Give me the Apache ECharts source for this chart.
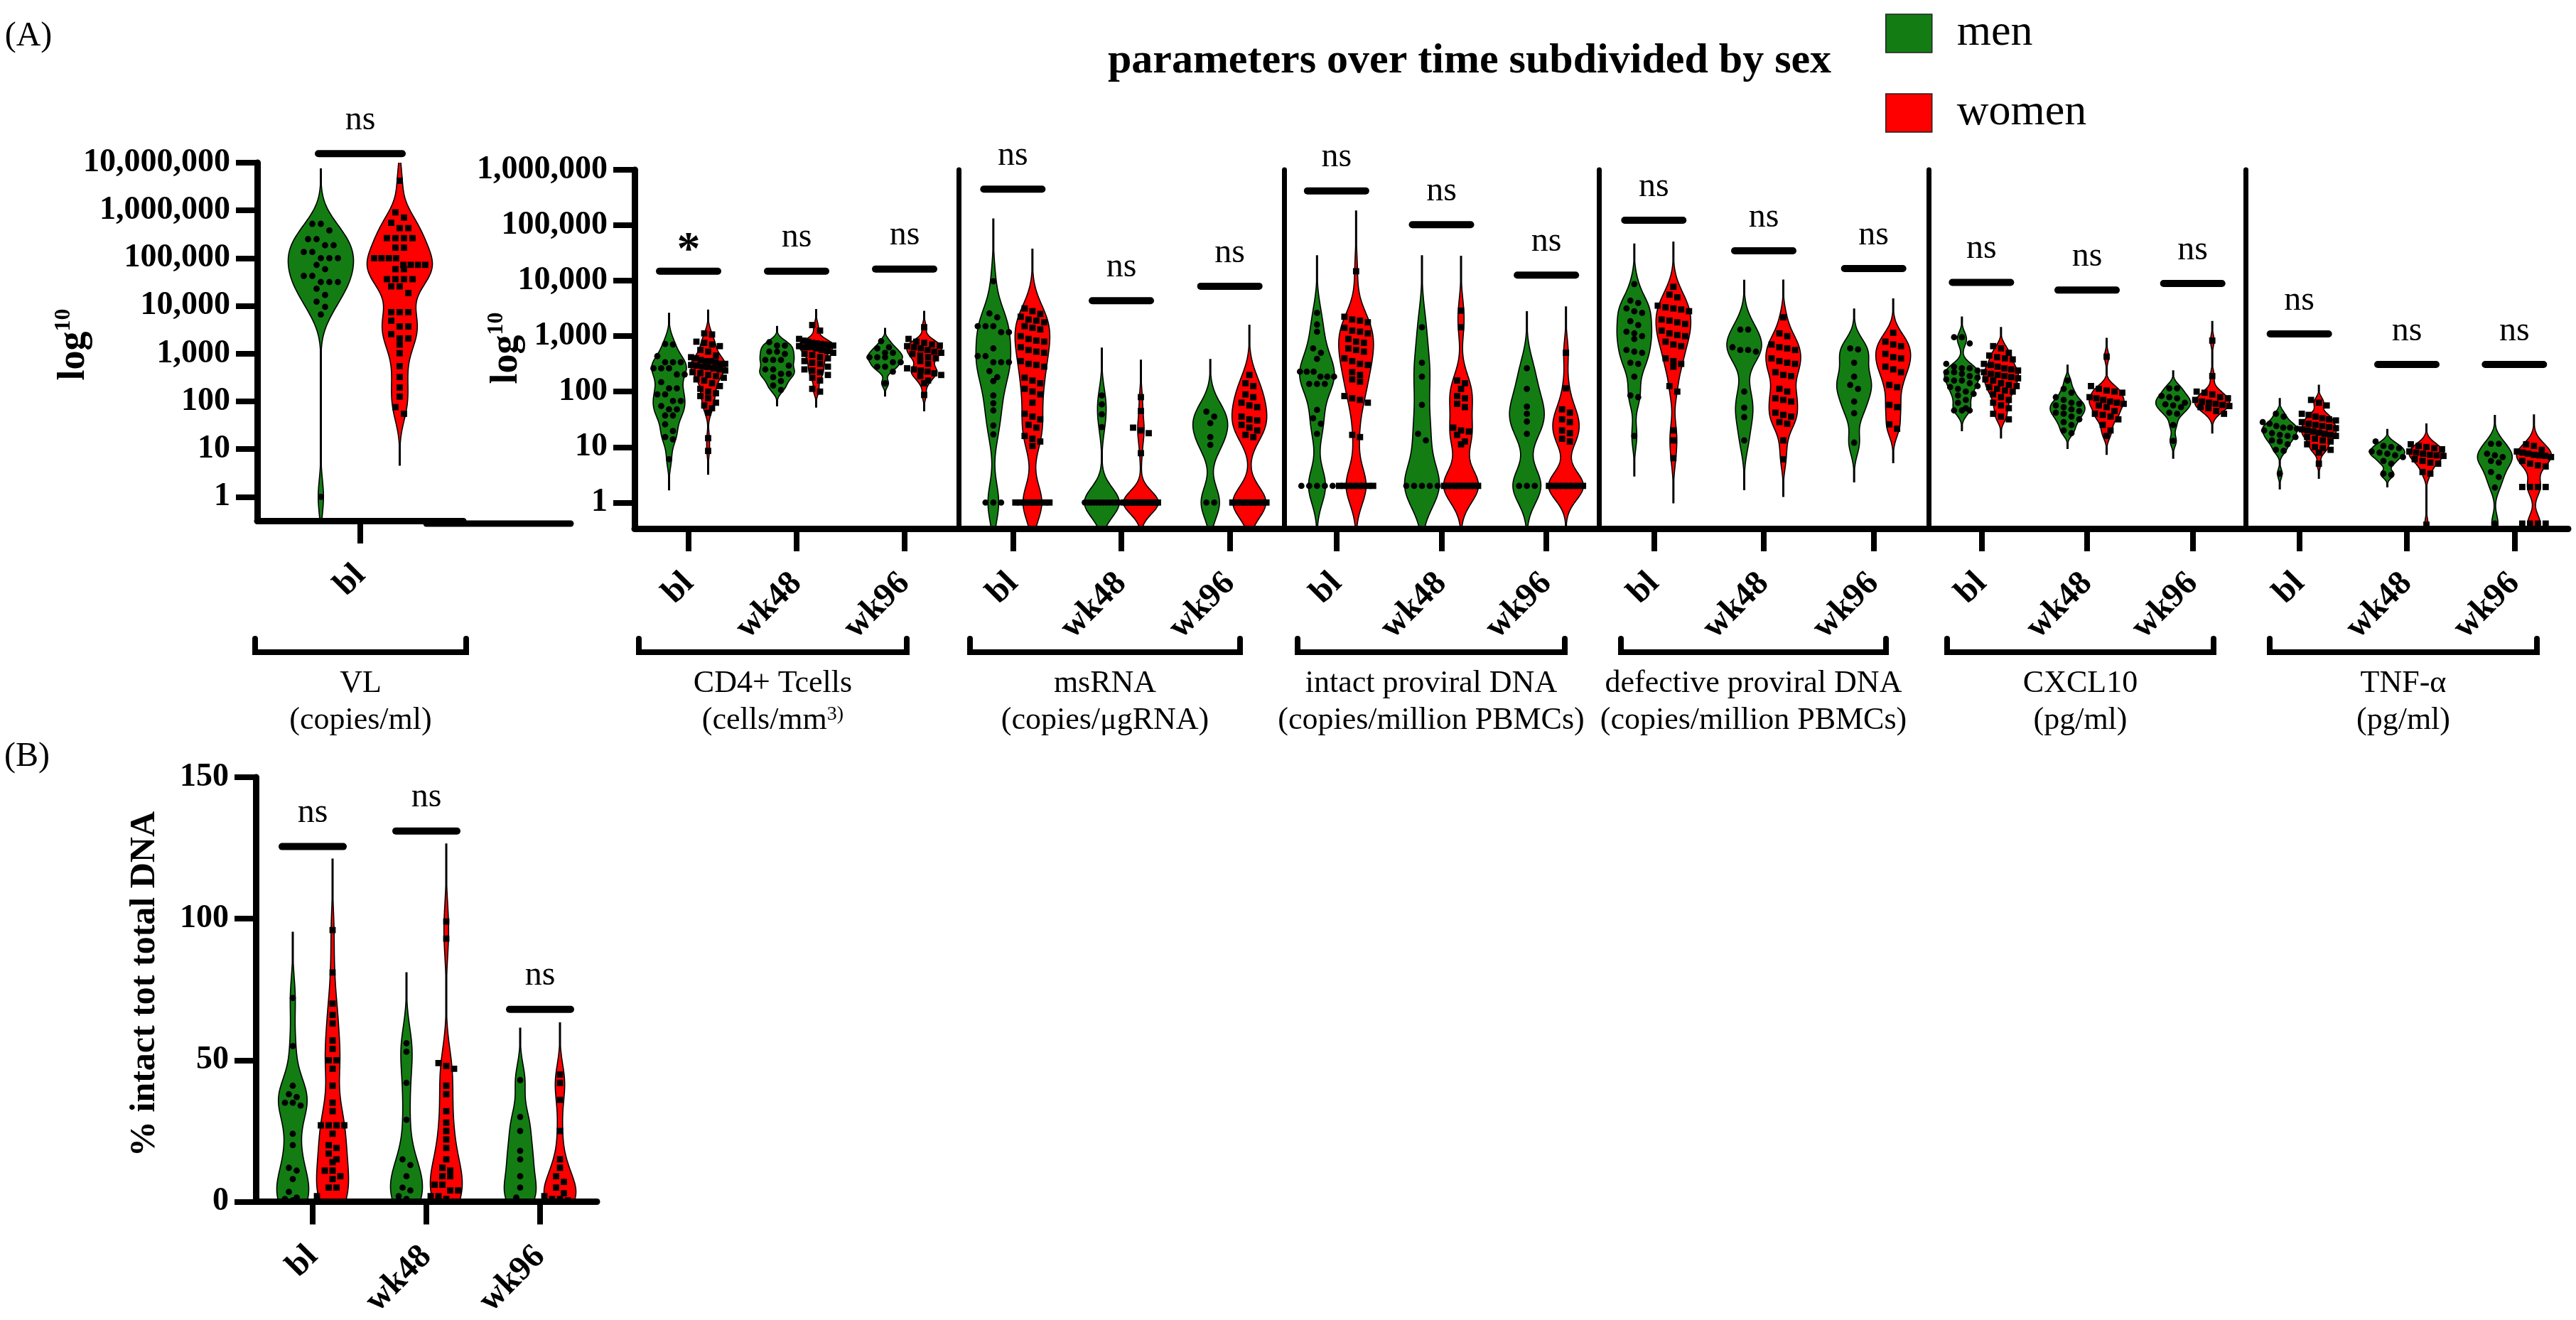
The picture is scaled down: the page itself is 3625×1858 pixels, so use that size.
<!DOCTYPE html>
<html>
<head>
<meta charset="utf-8">
<script src="https://cdn.jsdelivr.net/npm/echarts@6/dist/echarts.min.js"></script>
<style>html,body{margin:0;padding:0;background:#fff}#c{width:3625px;height:1858px}</style>
</head>
<body>
<div id="c"></div>
<script>
// ---------- categories and tick labels ----------
const timepoints = ['bl', 'wk48', 'wk96'];
const vlCategories = ['bl'];
const logTicksVL = [0, 1, 2, 3, 4, 5, 6, 7];
const logTicks = [0, 1, 2, 3, 4, 5, 6];
const groupNames = ['VL', 'CD4+ Tcells', 'msRNA', 'intact proviral DNA', 'defective proviral DNA', 'CXCL10', 'TNF-\u03b1'];
const groupUnits = ['(copies/ml)', '(cells/mm{s|3)}', '(copies/\u03bcgRNA)', '(copies/million PBMCs)', '(copies/million PBMCs)', '(pg/ml)', '(pg/ml)'];
const sexes = ['men', 'women'];

// ---------- values (log10 units for panel A, % for panel B) ----------
const vl_men = [5.72,5.72,5.58,5.40,5.40,5.27,5.27,5.13,5.13,5.00,5.00,5.00,4.86,4.77,4.63,4.63,4.50,4.50,4.50,4.36,4.23,4.09,3.98,3.82,0.00];
const vl_women = [6.62,5.96,5.85,5.74,5.63,5.63,5.42,5.42,5.42,5.42,5.22,5.22,5.00,5.00,5.00,5.00,4.86,4.86,4.86,4.86,4.77,4.77,4.56,4.56,4.56,4.56,4.41,4.41,4.27,3.87,3.87,3.87,3.69,3.57,3.57,3.41,3.32,3.32,3.19,3.01,2.74,2.51,2.29,2.10,1.88,1.74];

const cd4_men_bl = [2.86,2.85,2.64,2.53,2.53,2.53,2.42,2.42,2.42,2.31,2.31,2.17,2.06,2.06,1.95,1.95,1.83,1.83,1.74,1.68,1.68,1.57,1.57,1.41,1.29,1.18,1.14,0.78];
const cd4_women_bl = [3.05,3.03,2.90,2.88,2.85,2.82,2.75,2.72,2.65,2.62,2.60,2.57,2.55,2.55,2.53,2.50,2.50,2.48,2.47,2.45,2.44,2.42,2.40,2.38,2.35,2.33,2.30,2.28,2.25,2.22,2.20,2.15,2.10,2.05,2.00,1.97,1.92,1.88,1.80,1.75,1.70,1.62,1.16,0.93];
const cd4_men_wk48 = [2.89,2.83,2.83,2.72,2.72,2.68,2.57,2.57,2.57,2.47,2.40,2.40,2.32,2.32,2.26,2.19,2.11,2.03];
const cd4_women_wk48 = [3.20,3.10,2.95,2.92,2.90,2.88,2.87,2.86,2.85,2.84,2.83,2.82,2.80,2.80,2.78,2.75,2.73,2.70,2.68,2.66,2.62,2.60,2.55,2.52,2.50,2.45,2.40,2.38,2.35,2.30,2.25,2.20,2.05,2.00];
const cd4_men_wk96 = [2.91,2.80,2.78,2.70,2.70,2.62,2.62,2.62,2.53,2.53,2.45,2.45,2.36,2.15];
const cd4_women_wk96 = [3.16,2.95,2.90,2.88,2.85,2.83,2.82,2.80,2.78,2.75,2.72,2.70,2.68,2.65,2.62,2.60,2.55,2.50,2.42,2.40,2.38,2.36,2.33,2.30,2.28,2.20,2.15,1.94];

const ms_men_bl = [3.99,3.41,3.34,3.18,3.18,3.18,3.07,3.07,2.78,2.64,2.64,2.53,2.53,2.53,2.37,2.26,2.19,1.93,1.79,1.66,1.39,1.23,0,0,0];
const ms_women_bl = [3.50,3.45,3.40,3.35,3.30,3.28,3.25,3.18,3.15,3.12,3.00,2.95,2.92,2.90,2.80,2.75,2.72,2.70,2.55,2.50,2.48,2.45,2.25,2.20,2.15,2.05,2.00,1.95,1.80,1.60,1.55,1.50,1.40,1.35,1.20,1.15,1.10,1.02,0,0,0,0,0,0,0,0];
const ms_men_wk48 = [1.93,1.77,1.59,1.36,0,0,0,0,0,0,0,0,0,0,0,0];
const ms_women_wk48 = [1.90,1.65,1.35,1.30,1.25,0.89,0,0,0,0,0,0,0,0,0,0,0,0,0,0,0,0,0,0];
const ms_men_wk96 = [1.64,1.55,1.43,1.18,1.04,0,0];
const ms_women_wk96 = [2.30,2.15,2.10,1.95,1.90,1.80,1.75,1.72,1.55,1.50,1.48,1.40,1.35,1.30,1.22,1.18,0,0,0,0,0,0,0,0,0];

const int_men_bl = [3.42,3.21,3.08,2.78,2.70,2.59,2.36,2.36,2.36,2.27,2.27,2.27,2.14,2.14,2.14,1.67,1.52,1.42,1.24,0.3,0.3,0.3,0.3,0.3];
const int_women_bl = [4.17,3.35,3.30,3.28,3.25,3.15,3.10,3.08,3.05,2.95,2.90,2.88,2.78,2.75,2.72,2.60,2.55,2.50,2.48,2.35,2.30,2.22,2.18,1.92,1.88,1.85,1.80,1.22,1.18,0.3,0.3,0.3,0.3,0.3,0.3,0.3,0.3];
const int_men_wk48 = [3.16,2.52,2.27,1.76,1.24,1.12,0.3,0.3,0.3,0.3,0.3];
const int_women_wk48 = [3.46,3.16,2.20,2.15,2.05,1.92,1.88,1.78,1.72,1.35,1.30,1.28,1.22,1.10,1.05,0.3,0.3,0.3,0.3,0.3,0.3,0.3,0.3,0.3,0.3];
const int_men_wk96 = [2.42,2.05,1.73,1.60,1.46,1.24,0.3,0.3,0.3];
const int_women_wk96 = [2.70,2.06,1.68,1.62,1.50,1.45,1.30,1.25,1.15,1.10,0.3,0.3,0.3,0.3,0.3,0.3,0.3,0.3];

const def_men_bl = [3.94,3.64,3.60,3.50,3.45,3.42,3.27,3.20,3.08,3.05,3.00,2.95,2.75,2.72,2.70,2.52,2.50,2.27,1.93,1.90,1.20];
const def_women_bl = [3.89,3.75,3.70,3.55,3.52,3.50,3.48,3.45,3.30,3.28,3.25,3.22,3.10,3.05,3.02,3.00,2.90,2.85,2.82,2.60,2.55,2.50,2.45,2.10,2.00,1.30,1.12,0.80];
const def_men_wk48 = [3.12,3.12,2.80,2.75,2.75,2.72,2.00,1.71,1.54,1.12];
const def_women_wk48 = [3.34,3.05,3.00,2.85,2.80,2.78,2.75,2.60,2.55,2.52,2.50,2.35,2.30,2.28,2.05,2.00,1.88,1.85,1.82,1.62,1.58,1.55,1.45,1.42,1.12,0.78];
const def_men_wk96 = [2.78,2.76,2.52,2.27,2.12,2.05,1.82,1.61,1.08];
const def_women_wk96 = [3.06,2.90,2.85,2.82,2.68,2.62,2.60,2.45,2.40,2.35,2.12,2.08,1.76,1.72,1.41,1.33];

const cx_men_bl = [2.98,2.98,2.87,2.50,2.45,2.42,2.42,2.38,2.35,2.35,2.32,2.28,2.25,2.22,2.20,2.20,2.15,2.10,2.08,2.05,2.00,1.96,1.93,1.85,1.80,1.70,1.66,1.66,1.66];
const cx_women_bl = [2.82,2.78,2.70,2.65,2.62,2.60,2.58,2.50,2.48,2.45,2.42,2.40,2.38,2.35,2.32,2.30,2.28,2.26,2.24,2.22,2.20,2.15,2.12,2.10,2.08,2.05,2.02,2.00,1.95,1.90,1.85,1.80,1.75,1.70,1.60,1.55,1.50];
const cx_men_wk48 = [2.20,2.05,1.98,1.90,1.85,1.80,1.78,1.75,1.72,1.68,1.65,1.62,1.60,1.55,1.50,1.45,1.40,1.30,1.25];
const cx_women_wk48 = [2.63,2.10,2.05,2.02,2.00,1.98,1.90,1.88,1.85,1.82,1.80,1.78,1.75,1.72,1.65,1.60,1.58,1.55,1.50,1.40,1.30,1.20];
const cx_men_wk96 = [2.06,2.06,1.92,1.90,1.88,1.80,1.77,1.75,1.72,1.62,1.60,1.40,1.11];
const cx_women_wk96 = [2.92,2.28,2.00,1.98,1.95,1.90,1.88,1.85,1.82,1.80,1.78,1.76,1.74,1.72,1.70,1.65,1.60];

const tnf_men_bl = [1.60,1.55,1.45,1.42,1.38,1.35,1.35,1.33,1.30,1.25,1.22,1.20,1.18,1.12,1.10,1.05,0.95,0.93,0.52];
const tnf_women_bl = [1.85,1.80,1.75,1.60,1.58,1.55,1.52,1.50,1.48,1.45,1.42,1.40,1.38,1.36,1.34,1.32,1.30,1.28,1.26,1.24,1.22,1.20,1.18,1.15,1.12,1.10,1.05,1.00,0.98,0.95,0.90,0.70];
const tnf_men_wk48 = [1.10,1.02,1.00,0.98,0.92,0.90,0.88,0.85,0.82,0.75,0.70,0.52,0.50];
const tnf_women_wk48 = [1.05,1.02,1.00,0.98,0.96,0.92,0.90,0.88,0.86,0.85,0.84,0.78,0.75,0.72,0.70,0.55,0.52,-0.40];
const tnf_men_wk96 = [1.06,1.06,0.88,0.85,0.82,0.75,0.72,0.55,0.46,0.27,-0.38];
const tnf_women_wk96 = [1.05,1.02,0.95,0.92,0.90,0.88,0.86,0.85,0.84,0.82,0.75,0.70,0.67,0.65,0.28,0.28,0.28,0.28,-0.38,-0.38,-0.38,-0.38];

const b_men_bl = [72,55,41,38,37,35,35,34,24,20,12,11,8,3.5,1.5,1,0.5,0];
const b_women_bl = [96,81,70,66,63,57,54,50,50,47,41,35,32,27,27,27,27,24,20,19,17,15,14,11,11,9,8,5,5,2,0,0,0,0,0];
const b_men_wk48 = [56,53,42,29,15,13,9,5,4,2,1,0];
const b_women_wk48 = [99,93,49,48,47,41,38,32,28,25,22,19,15,12,11,9,9,6,6,4,4,2,2,1,0,0];
const b_men_wk96 = [43,30,25,18,15,9,5,1.5,0];
const b_women_wk96 = [45,42,36,25,15,12,9,7,5,3,2,1,1,0.5,0];

// significance annotations: [label, bar level in axis units]
const sig_vl = [['ns', 7.19]];
const sig_cd4 = [['*', 4.17], ['ns', 4.17], ['ns', 4.21]];
const sig_ms = [['ns', 5.65], ['ns', 3.64], ['ns', 3.90]];
const sig_int = [['ns', 5.62], ['ns', 5.01], ['ns', 4.10]];
const sig_def = [['ns', 5.09], ['ns', 4.54], ['ns', 4.22]];
const sig_cx = [['ns', 3.97], ['ns', 3.83], ['ns', 3.95]];
const sig_tnf = [['ns', 3.04], ['ns', 2.49], ['ns', 2.49]];
const sig_b = [['ns', 125.5], ['ns', 131], ['ns', 68]];

// ---------- styling / layout ----------
const FONT = 'Liberation Serif';
const GREEN = '#137d13';
const RED = '#ff0000';

const logPanel = (left, width, men, women, sig, first) => ({
  cats: timepoints, men, women, sig, first, linear: false,
  grid: { left, top: 239, width, height: 505 },
  yMin: -0.47, yMax: 6, ticks: logTicks,
  off: 27.5, halfW: 24.5, span: 24, step: 11, bar: 41
});

const panels = [
  { cats: vlCategories, men: [vl_men], women: [vl_women], sig: sig_vl, first: true, linear: false,
    grid: { left: 362, top: 229, width: 290, height: 504 }, yMin: -0.5, yMax: 7, ticks: logTicksVL,
    off: 55.5, halfW: 46, span: 36, step: 12, bar: 59 },
  logPanel(893, 456, [cd4_men_bl, cd4_men_wk48, cd4_men_wk96], [cd4_women_bl, cd4_women_wk48, cd4_women_wk96], sig_cd4, true),
  logPanel(1349, 458, [ms_men_bl, ms_men_wk48, ms_men_wk96], [ms_women_bl, ms_women_wk48, ms_women_wk96], sig_ms, false),
  logPanel(1807, 443, [int_men_bl, int_men_wk48, int_men_wk96], [int_women_bl, int_women_wk48, int_women_wk96], sig_int, false),
  logPanel(2250, 464, [def_men_bl, def_men_wk48, def_men_wk96], [def_women_bl, def_women_wk48, def_women_wk96], sig_def, false),
  logPanel(2714, 446, [cx_men_bl, cx_men_wk48, cx_men_wk96], [cx_women_bl, cx_women_wk48, cx_women_wk96], sig_cx, false),
  logPanel(3160, 454, [tnf_men_bl, tnf_men_wk48, tnf_men_wk96], [tnf_women_bl, tnf_women_wk48, tnf_women_wk96], sig_tnf, false),
  { cats: timepoints, men: [b_men_bl, b_men_wk48, b_men_wk96], women: [b_women_bl, b_women_wk48, b_women_wk96], sig: sig_b, first: true, linear: true,
    grid: { left: 360, top: 1094, width: 480, height: 600 }, yMin: 0, yMax: 150, interval: 50,
    off: 28, halfW: 22.5, span: 22, step: 11, bar: 43 }
];

// ---------- helpers ----------
function bandwidth(vals, linear) {
  const n = vals.length;
  const mean = vals.reduce((a, b) => a + b, 0) / n;
  const sd = Math.sqrt(vals.reduce((a, b) => a + (b - mean) * (b - mean), 0) / Math.max(n - 1, 1));
  const h = 0.9 * sd * Math.pow(n, -0.2);
  return Math.max(h, linear ? 2 : 0.08);
}

function violinRender(p, sex) {
  const sets = p[sex];
  const sign = sex === 'men' ? -1 : 1;
  const color = sex === 'men' ? GREEN : RED;
  return function (params, api) {
    const i = api.value(0);
    const vals = sets[i];
    const cx = api.coord([i, p.yMin])[0] + sign * p.off;
    const hs = bandwidth(vals, p.linear);
    const hd = hs * 0.68;
    const lo = Math.min.apply(null, vals) - 2.2 * hs;
    const hi = Math.max.apply(null, vals) + 2.2 * hs;
    const N = 220;
    const dens = [];
    let dmax = 0;
    for (let k = 0; k <= N; k++) {
      const y = lo + (hi - lo) * k / N;
      let d = 0;
      for (const v of vals) { const z = (y - v) / hd; d += Math.exp(-0.5 * z * z); }
      dens.push([y, d]);
      if (d > dmax) dmax = d;
    }
    const R = [], L = [];
    for (const [y, d] of dens) {
      const py = api.coord([i, y])[1];
      const w = Math.max(p.halfW * d / dmax, 0.7);
      R.push([cx + w, py]);
      L.push([cx - w, py]);
    }
    const children = [{
      type: 'polygon', shape: { points: R.concat(L.reverse()) },
      style: { fill: color, stroke: '#000', lineWidth: 1.6 }
    }];
    // bee-swarm rows of points
    const ys = vals.map(v => api.coord([i, v])[1]).sort((a, b) => a - b);
    const rows = [];
    for (const y of ys) {
      const r = rows[rows.length - 1];
      if (r && y - r[0] < 9.5) r.push(y); else rows.push([y]);
    }
    for (const r of rows) {
      const n = r.length;
      const spacing = n > 1 ? Math.min(p.step, 2 * p.span / (n - 1)) : 0;
      r.forEach((y, j) => {
        const x = cx + (j - (n - 1) / 2) * spacing;
        if (sex === 'men') {
          children.push({ type: 'circle', shape: { cx: x, cy: y, r: 4.4 }, style: { fill: '#000' } });
        } else {
          children.push({ type: 'rect', shape: { x: x - 4.4, y: y - 4.4, width: 8.8, height: 8.8 }, style: { fill: '#000' } });
        }
      });
    }
    return { type: 'group', children };
  };
}

function sigRender(p) {
  return function (params, api) {
    const i = api.value(0);
    const c = api.coord([i, api.value(1)]);
    const label = p.sig[i][0];
    const star = label === '*';
    return {
      type: 'group',
      children: [
        { type: 'line', shape: { x1: c[0] - p.bar, y1: c[1], x2: c[0] + p.bar, y2: c[1] },
          style: { stroke: '#000', lineWidth: 10, lineCap: 'round' } },
        { type: 'text', x: c[0], y: star ? c[1] - 28 : c[1] - 47,
          style: { text: label, fontFamily: FONT, fontSize: star ? 66 : 48, fontWeight: star ? 'bold' : 'normal',
                   fill: '#000', align: 'center', verticalAlign: 'middle' } }
      ]
    };
  };
}

// ---------- build option ----------
const grids = [], xAxes = [], yAxes = [], series = [];
panels.forEach((p, g) => {
  grids.push(Object.assign({ containLabel: false }, p.grid));
  xAxes.push({
    type: 'category', gridIndex: g, data: p.cats, boundaryGap: true, z: 5,
    axisLine: { show: true, onZero: false, lineStyle: { color: '#000', width: 9 } },
    axisTick: { show: true, alignWithLabel: true, length: 32, lineStyle: { color: '#000', width: 8 } },
    axisLabel: { show: true, interval: 0, rotate: 45, margin: 70, fontFamily: FONT, fontWeight: 'bold', fontSize: 48, color: '#000' },
    splitLine: { show: false }
  });
  const y = {
    type: 'value', gridIndex: g, min: p.yMin, max: p.yMax, z: 5,
    axisLine: { show: true, lineStyle: { color: '#000', width: p.first ? 9 : 7 } },
    splitLine: { show: false }
  };
  if (p.first) {
    if (p.linear) {
      y.interval = p.interval;
      y.axisTick = { show: true, length: 30, lineStyle: { color: '#000', width: 8 } };
      y.axisLabel = { show: true, margin: 38, fontFamily: FONT, fontWeight: 'bold', fontSize: 46, color: '#000' };
    } else {
      y.axisTick = { show: true, customValues: p.ticks, length: 30, lineStyle: { color: '#000', width: 8 } };
      y.axisLabel = { show: true, customValues: p.ticks, margin: 38, fontFamily: FONT, fontWeight: 'bold', fontSize: 46, color: '#000',
        formatter: v => Math.round(Math.pow(10, v)).toLocaleString('en-US') };
    }
  } else {
    y.axisTick = { show: false };
    y.axisLabel = { show: false };
  }
  yAxes.push(y);
  sexes.forEach(sex => {
    series.push({
      type: 'custom', name: sex, coordinateSystem: 'cartesian2d', xAxisIndex: g, yAxisIndex: g,
      clip: true, z: 2, itemStyle: { color: sex === 'men' ? GREEN : RED },
      renderItem: violinRender(p, sex),
      encode: { x: 0, y: 1 },
      data: p.cats.map((c, i) => [i, p.yMin])
    });
  });
  series.push({
    type: 'custom', name: 'sig' + g, coordinateSystem: 'cartesian2d', xAxisIndex: g, yAxisIndex: g,
    clip: false, z: 3, renderItem: sigRender(p), encode: { x: 0, y: 1 },
    data: p.sig.map((s, i) => [i, s[1]])
  });
});

// brackets + group labels
const bracketX = [[359, 656], [899, 1276], [1365, 1745], [1826, 2202], [2281, 2654], [2740, 3115], [3194, 3570]];
const graphics = [];
const txt = (text, x, y, size, weight, extra) => Object.assign({
  type: 'text', x, y,
  style: { text, fontFamily: FONT, fontSize: size, fontWeight: weight, fill: '#000',
           align: 'center', verticalAlign: 'middle', textAlign: 'center', textVerticalAlign: 'middle' }
}, extra || {});
bracketX.forEach((b, k) => {
  graphics.push({ type: 'polyline', shape: { points: [[b[0], 899], [b[0], 918], [b[1], 918], [b[1], 899]] },
    style: { stroke: '#000', lineWidth: 8, fill: null, lineJoin: 'miter', lineCap: 'round' } });
  const cx = (b[0] + b[1]) / 2;
  graphics.push(txt(groupNames[k], cx, 962, 44, 'normal'));
  const t2 = txt(groupUnits[k], cx, 1014, 44, 'normal');
  t2.style.rich = { s: { fontFamily: FONT, fontSize: 28, fill: '#000', color: '#000', verticalAlign: 'top', padding: [0, 0, 14, 0] } };
  graphics.push(t2);
});
// stray baseline segment beside the VL panel
graphics.push({ type: 'line', shape: { x1: 600, y1: 737, x2: 803, y2: 737 }, style: { stroke: '#000', lineWidth: 9, lineCap: 'round' } });
// panel letters, title
graphics.push(txt('(A)', 40, 51, 48, 'normal'));
graphics.push(txt('(B)', 38, 1065, 48, 'normal'));
graphics.push(txt('parameters over time subdivided by sex', 2068, 86, 60, 'bold'));
// axis titles
const logTitle = (x, y) => {
  const t = txt('{a|log}{b|10}', x, y, 52, 'bold', { rotation: Math.PI / 2 });
  t.style.rich = {
    a: { fontFamily: FONT, fontSize: 54, fontWeight: 'bold', fill: '#000', color: '#000', lineHeight: 60 },
    b: { fontFamily: FONT, fontSize: 32, fontWeight: 'bold', fill: '#000', color: '#000', verticalAlign: 'top', lineHeight: 60 }
  };
  return t;
};
graphics.push(logTitle(104, 485));
graphics.push(logTitle(713, 490));
graphics.push(txt('% intact tot total DNA', 204, 1385, 50, 'bold', { rotation: Math.PI / 2 }));

const option = {
  backgroundColor: '#ffffff',
  animation: false,
  legend: {
    orient: 'vertical', left: 2648, top: 11, itemWidth: 65, itemHeight: 54, itemGap: 50, icon: 'rect',
    selectedMode: false,
    textStyle: { fontFamily: FONT, fontSize: 62, lineHeight: 54, color: '#000', padding: [0, 0, 0, 30] },
    data: [
      { name: 'men', itemStyle: { color: GREEN, borderColor: '#222', borderWidth: 1.5 } },
      { name: 'women', itemStyle: { color: RED, borderColor: '#222', borderWidth: 1.5 } }
    ]
  },
  grid: grids, xAxis: xAxes, yAxis: yAxes, series,
  graphic: { elements: graphics }
};

const chart = echarts.init(document.getElementById('c'), null, { renderer: 'canvas', width: 3625, height: 1858 });
chart.setOption(option);
</script>
</body>
</html>
